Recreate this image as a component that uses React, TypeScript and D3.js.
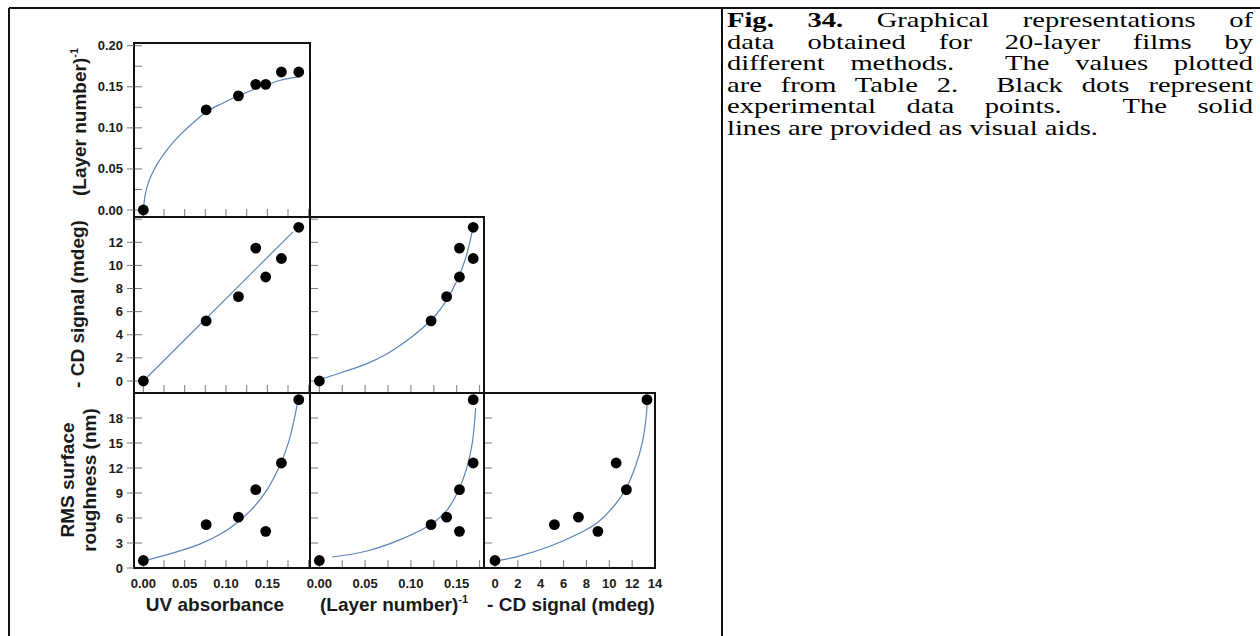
import React, { useEffect, useRef } from "react";
import * as d3 from "d3";

// ---- data ----
const uvAbsorbance = [0, 0.076, 0.115, 0.136, 0.148, 0.167, 0.188];
const inverseLayer = [0, 0.122, 0.139, 0.153, 0.153, 0.168, 0.168];
const cdSignal = [0, 5.2, 7.3, 11.5, 9.0, 10.6, 13.3];
const rmsRoughness = [0.9, 5.2, 6.1, 9.4, 4.4, 12.6, 20.2];

// visual-aid curves, points
const fitUvLayer: [number, number][] = [[0, 0], [0.002, 0.017], [0.005, 0.03], [0.01, 0.043], [0.018, 0.058], [0.03, 0.075], [0.045, 0.092], [0.06, 0.106], [0.077, 0.12], [0.096, 0.13], [0.115, 0.139], [0.142, 0.15], [0.166, 0.158], [0.188, 0.162]];
const fitUvCd: [number, number][] = [[0, 0], [0.181, 12.9]];
const fitLayerCd: [number, number][] = [[0, 0.11], [0.026, 0.78], [0.052, 1.5], [0.074, 2.36], [0.095, 3.46], [0.114, 4.67], [0.126, 5.6], [0.139, 7.0], [0.151, 8.8], [0.16, 10.7], [0.1675, 13.17]];
const fitUvRms: [number, number][] = [[0, 0.84], [0.029, 1.6], [0.069, 2.9], [0.094, 4.1], [0.116, 5.65], [0.134, 7.35], [0.15, 9.44], [0.166, 12.5], [0.176, 15.2], [0.182, 17.6], [0.186, 19.6]];
const fitLayerRms: [number, number][] = [[0.014, 1.32], [0.052, 2.04], [0.089, 3.43], [0.122, 5.24], [0.14, 7.04], [0.1525, 9.44], [0.1616, 12.25], [0.167, 15.0], [0.1707, 19.2]];
const fitCdRms: [number, number][] = [[0.06, 0.84], [1.95, 1.36], [4.87, 2.64], [7.2, 4.04], [8.95, 5.44], [10.41, 7.44], [11.43, 9.44], [12.3, 12.24], [12.89, 15.04], [13.22, 18.0], [13.32, 20.0]];

// ticks
const fracTicks = [0, 0.025, 0.05, 0.075, 0.1, 0.125, 0.15, 0.175, 0.2];
const fracXLabels = ["0.00", "0.05", "0.10", "0.15"];
const fracYLabels = ["0.00", "0.05", "0.10", "0.15", "0.20"];
const cdTicks = [0, 2, 4, 6, 8, 10, 12, 14];
const cdXLabels = ["0", "2", "4", "6", "8", "10", "12", "14"];
const cdYLabels = ["0", "2", "4", "6", "8", "10", "12"];
const rmsTicks = [0, 3, 6, 9, 12, 15, 18, 21];
const rmsYLabels = ["0", "3", "6", "9", "12", "15", "18"];

// caption text
const captionBold = "Fig. 34.";
const captionLines = [
  " Graphical representations of",
  "data obtained for 20-layer films by",
  "different methods.  The values plotted",
  "are from Table 2.  Black dots represent",
  "experimental data points.  The solid",
  "lines are provided as visual aids.",
];

const SANS = "'Liberation Sans', Arial, sans-serif";
const SERIF = "'Liberation Serif', 'Times New Roman', serif";
const CURVE = "#5d83b9";
const TICK = "#7a7a7a";

const colX = [
  d3.scaleLinear().domain([-0.0113, 0.2016]).range([134, 310]),
  d3.scaleLinear().domain([-0.0102, 0.1798]).range([310, 484]),
  d3.scaleLinear().domain([-0.962, 14.0]).range([484, 655]),
];
const rowY = [
  d3.scaleLinear().domain([-0.0085, 0.2033]).range([217, 43]),
  d3.scaleLinear().domain([-1.04, 14.19]).range([393, 217]),
  d3.scaleLinear().domain([0, 21.0]).range([568, 393]),
];
const colTicks = [fracTicks, fracTicks, cdTicks];
const rowTicks = [fracTicks, cdTicks, rmsTicks];

const colData = [uvAbsorbance, inverseLayer, cdSignal];
const rowData = [inverseLayer, cdSignal, rmsRoughness];

const panels = [
  { c: 0, r: 0, fit: fitUvLayer },
  { c: 0, r: 1, fit: fitUvCd },
  { c: 1, r: 1, fit: fitLayerCd },
  { c: 0, r: 2, fit: fitUvRms },
  { c: 1, r: 2, fit: fitLayerRms },
  { c: 2, r: 2, fit: fitCdRms },
];

export default function App() {
  const capRef = useRef<SVGGElement>(null);

  useEffect(() => {
    if (!capRef.current) return;
    d3.select(capRef.current)
      .selectAll<SVGTextElement, unknown>("text.just")
      .each(function () {
        const el = this;
        el.style.wordSpacing = "0px";
        const natural = el.getComputedTextLength();
        const n = ((el.textContent || "").match(/ /g) || []).length;
        const target = +(el.getAttribute("data-w") || 0);
        if (n > 0 && target > natural) el.style.wordSpacing = (target - natural) / n + "px";
      });
  }, []);

  const capScale = 1.36;
  const capLeft = 727;
  const capW = (1253 - capLeft) / capScale;

  const line = d3.line<[number, number]>().curve(d3.curveCatmullRom.alpha(0.5));

  return (
    <svg width={1260} height={636} style={{ position: "absolute", left: 0, top: 0, background: "#fff" }}>
      {/* page frame */}
      <g stroke="#111" strokeWidth={2}>
        <line x1={9} y1={8} x2={1260} y2={8} />
        <line x1={9} y1={8} x2={9} y2={636} />
        <line x1={722} y1={8} x2={722} y2={636} />
      </g>

      {panels.map((p, i) => {
        const xs = colX[p.c];
        const ys = rowY[p.r];
        const [x0, x1] = xs.range();
        const [y0, y1] = ys.range();
        const pts = colData[p.c].map((v, k) => [xs(v), ys(rowData[p.r][k])]);
        const fitPath = line(p.fit.map(([a, b]) => [xs(a), ys(b)] as [number, number]));
        return (
          <g key={i}>
            {colTicks[p.c].map((t, k) => {
              const x = xs(t);
              if (x <= x0 + 1 || x >= x1 - 1) return null;
              return <line key={"xt" + k} x1={x} x2={x} y1={y0} y2={y0 - 8} stroke={TICK} strokeWidth={1} />;
            })}
            {rowTicks[p.r].map((t, k) => {
              const y = ys(t);
              if (y >= y0 - 1 || y <= y1 + 1) return null;
              return <line key={"yt" + k} x1={x0} x2={x0 + 8} y1={y} y2={y} stroke={TICK} strokeWidth={1} />;
            })}
            <path d={fitPath || ""} fill="none" stroke={CURVE} strokeWidth={1.2} />
            <rect x={x0} y={y1} width={x1 - x0} height={y0 - y1} fill="none" stroke="#111" strokeWidth={2} />
            {pts.map(([x, y], k) => (
              <circle key={"d" + k} cx={x} cy={y} r={5.4} fill="#000" />
            ))}
          </g>
        );
      })}

      {/* y tick labels + outer major ticks on left column */}
      {[0, 1, 2].map((r) => {
        const ys = rowY[r];
        const labels = r === 0 ? fracYLabels : r === 1 ? cdYLabels : rmsYLabels;
        return (
          <g key={"yl" + r}>
            {labels.map((lab) => {
              const y = ys(+lab);
              return (
                <g key={lab}>
                  <line x1={127} x2={134} y1={y} y2={y} stroke={TICK} strokeWidth={1} />
                  <text x={123} y={y} dy="0.35em" textAnchor="end" fontFamily={SANS} fontWeight="bold" fontSize={13} fill="#1a1a1a">
                    {lab}
                  </text>
                </g>
              );
            })}
          </g>
        );
      })}

      {/* x tick labels on bottom row */}
      {[0, 1, 2].map((c) => {
        const xs = colX[c];
        const labels = c === 2 ? cdXLabels : fracXLabels;
        return (
          <g key={"xl" + c}>
            {labels.map((lab) => (
              <text key={lab} x={xs(+lab)} y={588} textAnchor="middle" fontFamily={SANS} fontWeight="bold" fontSize={13} fill="#1a1a1a">
                {lab}
              </text>
            ))}
          </g>
        );
      })}

      {/* axis titles */}
      <g fontFamily={SANS} fontWeight="bold" fontSize={19} fill="#1a1a1a" textAnchor="middle">
        <text x={215} y={611}>UV absorbance</text>
        <text x={394} y={611}>
          (Layer number)<tspan fontSize={11} dy={-8}>-1</tspan>
        </text>
        <text x={571} y={611}>- CD signal (mdeg)</text>
        <text transform="translate(86,122) rotate(-90)">
          (Layer number)<tspan fontSize={11} dy={-8}>-1</tspan>
        </text>
        <text transform="translate(84,304) rotate(-90)">- CD signal (mdeg)</text>
        <text transform="translate(74,480) rotate(-90)">RMS surface</text>
        <text transform="translate(96,480) rotate(-90)">roughness (nm)</text>
      </g>

      {/* caption */}
      <g ref={capRef} transform={`translate(${capLeft},0) scale(${capScale},1)`} fontFamily={SERIF} fontSize={21} fill="#000">
        {captionLines.map((t, i) => (
          <text
            key={i}
            className={i < captionLines.length - 1 ? "just" : ""}
            data-w={capW}
            x={0}
            y={27 + i * 21.6}
            style={{ whiteSpace: "pre" }}
          >
            {i === 0 ? <tspan fontWeight="bold">{captionBold}</tspan> : null}
            {t}
          </text>
        ))}
      </g>
    </svg>
  );
}
